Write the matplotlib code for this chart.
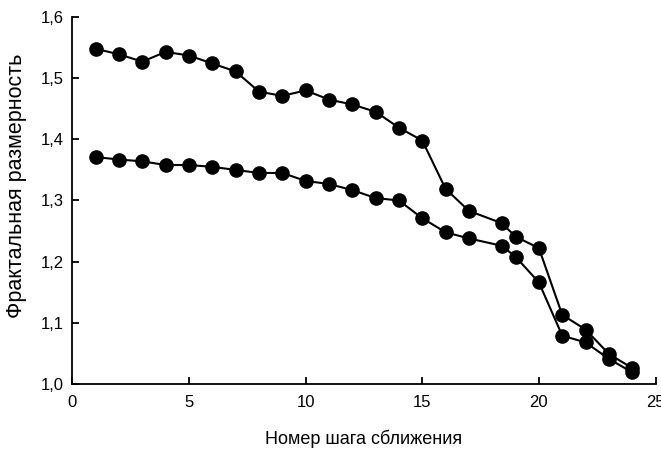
import matplotlib.pyplot as plt
from matplotlib.ticker import FuncFormatter

plt.rcParams['font.family'] = ['Liberation Sans', 'DejaVu Sans']

# шаги сближения
steps = [1, 2, 3, 4, 5, 6, 7, 8, 9, 10, 11, 12, 13, 14, 15, 16, 17, 18.4, 19, 20, 21, 22, 23, 24]

upper = [1.548, 1.539, 1.527, 1.543, 1.537, 1.524, 1.511, 1.478, 1.471, 1.480,
         1.465, 1.457, 1.445, 1.419, 1.398, 1.319, 1.283, 1.263, 1.241, 1.222,
         1.113, 1.089, 1.049, 1.026]

lower = [1.371, 1.367, 1.364, 1.358, 1.358, 1.355, 1.350, 1.345, 1.345, 1.332,
         1.327, 1.317, 1.304, 1.300, 1.271, 1.248, 1.238, 1.226, 1.208, 1.166,
         1.079, 1.068, 1.041, 1.019]

fig = plt.figure(figsize=(6.61, 4.51), dpi=100)
ax = fig.add_axes([0.1094, 0.1486, 0.8824, 0.8137])

for ys in (upper, lower):
    ax.plot(steps, ys, color='black', lw=1.5, marker='o', ms=9.5,
            markerfacecolor='black', markeredgecolor='black', clip_on=False)

ax.set_xlim(0, 25)
ax.set_ylim(1.0, 1.6)
ax.set_xticks([0, 5, 10, 15, 20, 25])
ax.set_yticks([1.0, 1.1, 1.2, 1.3, 1.4, 1.5, 1.6])
ax.yaxis.set_major_formatter(FuncFormatter(lambda v, p: f"{v:.1f}".replace('.', ',')))

ax.spines['top'].set_visible(False)
ax.spines['right'].set_visible(False)
ax.spines['left'].set_linewidth(1.3)
ax.spines['bottom'].set_linewidth(1.3)
ax.tick_params(direction='in', length=5, width=1.3, labelsize=12)
ax.tick_params(axis='x', pad=8)
ax.tick_params(axis='y', pad=6)

ax.set_xlabel("Номер шага сближения", fontsize=13, va='center')
ax.xaxis.set_label_coords(0.5, -0.150)
ax.set_ylabel("Фрактальная размерность", fontsize=15.5, va='center')
ax.yaxis.set_label_coords(-0.0965, 0.54)

fig.savefig("out.png", dpi=100)
